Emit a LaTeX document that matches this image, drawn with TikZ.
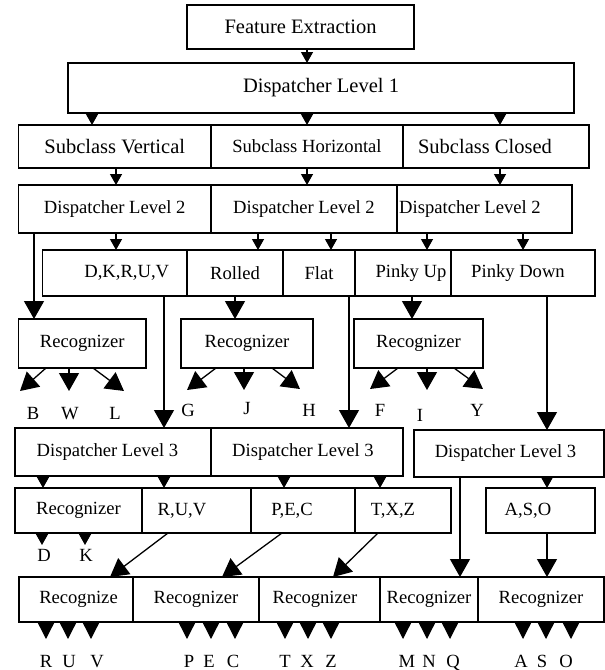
\documentclass[tikz,border=0pt]{standalone}
\usepackage{fontspec}
\setmainfont{Liberation Serif}
\usetikzlibrary{arrows.meta,calc}
\newcommand{\bigf}{\fontsize{20.5}{22}\selectfont}
\newcommand{\nf}{\fontsize{18.6}{20}\selectfont}
\newcommand{\boxnode}[7][box]{\node[#1,minimum width={(#5-#3)*1pt},minimum height={(#6-#4)*1pt}] (#2) at ({(#3+#5)/2},{(#4+#6)/2}) {#7};}
\newcommand{\vc}[4][arrs]{\coordinate (tmpx) at (#4,0); \draw[#1] (#2.south -| tmpx) -- (#3.north -| tmpx);}
\begin{document}
\begin{tikzpicture}[x=1pt,y=-1pt,
 box/.style={draw,line width=1.6pt,inner sep=0pt,outer sep=0pt,font=\nf},
 bigbox/.style={box,font=\bigf},
 arrs/.style={line width=1.3pt,-{Triangle[length=11pt,width=12pt]}},
 arrb/.style={line width=1.3pt,-{Triangle[length=18pt,width=20pt]}},
 arro/.style={line width=1.3pt,-{Triangle[length=16pt,width=16pt]}},
 lbl/.style={font=\nf,inner sep=0pt,anchor=base}]
\useasboundingbox (0,0) rectangle (605,670);
% level boxes
\boxnode[bigbox]{fe}{187}{5}{414}{49}{Feature Extraction}
\boxnode[bigbox]{dl1}{68}{63}{574}{113}{Dispatcher Level 1}
\boxnode[bigbox]{sv}{18.5}{125}{211}{168}{Subclass Vertical}
\boxnode{sh}{211}{125}{403}{168}{Subclass Horizontal}
\boxnode[bigbox]{sc}{403}{125}{589}{168}{Subclass Closed\hspace*{22pt}}
\boxnode{dla}{18.5}{185}{211}{233}{Dispatcher Level 2}
\boxnode{dlb}{211}{185}{397}{233}{Dispatcher Level 2}
\boxnode{dlc}{397}{185}{572}{233}{Dispatcher Level 2\hspace*{29pt}}
\boxnode{dk}{42.5}{250}{187}{296}{\hspace*{24pt}D,K,R,U,V}
\boxnode{ro}{187}{250}{283}{296}{Rolled}
\boxnode{fl}{283}{250}{355}{296}{Flat}
\boxnode{pu}{355}{250}{451}{296}{\hspace*{16pt}Pinky Up}
\boxnode{pd}{451}{250}{595}{296}{Pinky Down\hspace*{10pt}}
\boxnode{ra}{18.5}{319}{146}{368}{Recognizer}
\boxnode{rb}{181}{319}{313}{368}{Recognizer}
\boxnode{rc}{354}{319}{483}{368}{Recognizer}
\boxnode{dta}{15}{428}{211}{476}{Dispatcher Level 3\hspace*{11pt}}
\boxnode{dtb}{211}{428}{403}{476}{Dispatcher Level 3\hspace*{8pt}}
\boxnode{dtc}{414}{430}{604}{477}{Dispatcher Level 3\hspace*{7pt}}
\boxnode{ga}{15}{488}{142}{533}{Recognizer}
\boxnode{gb}{142}{488}{251}{533}{R,U,V\hspace*{29pt}}
\boxnode{gc}{251}{488}{355}{533}{P,E,C\hspace*{22pt}}
\boxnode{gd}{355}{488}{451}{533}{T,X,Z\hspace*{20pt}}
\boxnode{aso}{486}{488}{595}{533}{A,S,O\hspace*{25pt}}
\boxnode{ba}{19}{577}{133}{622}{\hspace*{5pt}Recognize}
\boxnode{bb}{133}{577}{259}{622}{Recognizer}
\boxnode{bc}{259}{577}{380}{622}{Recognizer\hspace*{9pt}}
\boxnode{bd}{380}{577}{478}{622}{Recognizer}
\boxnode{be}{478}{577}{604}{622}{Recognizer}
% vertical connectors
\vc{fe}{dl1}{307}
\vc{dl1}{sv}{92} \vc{dl1}{sh}{307} \vc{dl1}{sc}{500}
\vc{sv}{dla}{116} \vc{sh}{dlb}{307} \vc{sc}{dlc}{500}
\vc{dla}{dk}{116} \vc{dlb}{ro}{258} \vc{dlb}{fl}{331} \vc{dlc}{pu}{427} \vc{dlc}{pd}{523}
\vc[arrb]{dla}{ra}{34} \vc[arrb]{ro}{rb}{235} \vc[arrb]{pu}{rc}{412}
\vc[arrb]{dk}{dta}{164} \vc[arrb]{fl}{dtb}{349} \vc[arrb]{pd}{dtc}{547}
\vc{dta}{ga}{43} \vc{dta}{gb}{164} \vc{dtb}{gc}{284} \vc{dtb}{gd}{380} \vc{dtc}{aso}{547}
\vc[arrb]{dtc}{bd}{460} \vc[arrb]{aso}{be}{547}
% diagonal connectors to bottom row
\draw[arrb] ([xshift=-28.5pt]gb.south) -- ([xshift=34pt]ba.north);
\draw[arrb] ([xshift=-21pt]gc.south) -- ([xshift=26pt]bb.north);
\draw[arrb] ([xshift=-25pt]gd.south) -- ([xshift=13.5pt]bc.north);
% recognizer outputs, row 5
\coordinate (tB) at (20,391); \coordinate (tW) at (69,391); \coordinate (tL) at (124,391);
\coordinate (tG) at (187,390); \coordinate (tJ) at (244,390); \coordinate (tH) at (300,389);
\coordinate (tF) at (370,389); \coordinate (tI) at (427,390); \coordinate (tY) at (483,389);
\draw[arrb] ([xshift=-36.25pt]ra.south) -- (tB);
\draw[arrb] ([xshift=-13.25pt]ra.south) -- (tW);
\draw[arrb] ([xshift=10.75pt]ra.south) -- (tL);
\draw[arrb] ([xshift=-31pt]rb.south) -- (tG);
\draw[arrb] ([xshift=-3pt]rb.south) -- (tJ);
\draw[arrb] ([xshift=25pt]rb.south) -- (tH);
\draw[arrb] ([xshift=-20.5pt]rc.south) -- (tF);
\draw[arrb] ([xshift=8.5pt]rc.south) -- (tI);
\draw[arrb] ([xshift=35.5pt]rc.south) -- (tY);
\node[lbl] (lB) at (33,419) {B};
\node[lbl] (lW) at (70,419) {W};
\node[lbl] (lL) at (115,419) {L};
\node[lbl] (lG) at (188,416) {G};
\node[lbl] (lJ) at (247,414) {J};
\node[lbl] (lH) at (309,416) {H};
\node[lbl] (lF) at (380,416) {F};
\node[lbl] (lI) at (420,421) {I};
\node[lbl] (lY) at (477,416) {Y};
% D, K
\coordinate (tD) at (42,545); \coordinate (tK) at (85,545);
\draw[arrs] (ga.south -| tD) -- (tD);
\draw[arrs] (ga.south -| tK) -- (tK);
\node[lbl] (lD) at (44,561) {D};
\node[lbl] (lK) at (86,561) {K};
% bottom outputs
\foreach \bn/\xa/\xb/\xc in {ba/46/68/91, bb/187/211/235, bc/285/308/331, bd/403/427/450, be/523/546/571}{
  \foreach \xx in {\xa,\xb,\xc}{
    \coordinate (o\bn\xx) at (\xx,639);
    \draw[arro] (\bn.south -| o\bn\xx) -- (o\bn\xx);
  }
}
\foreach \ch/\xx in {R/46,U/69,V/97,P/189,E/209,C/233,T/285,X/307,Z/331,M/407,N/429,Q/453,A/521,S/542,O/566}{
  \node[lbl] (l\ch\xx) at (\xx,667) {\ch};
}
\end{tikzpicture}
\end{document}
